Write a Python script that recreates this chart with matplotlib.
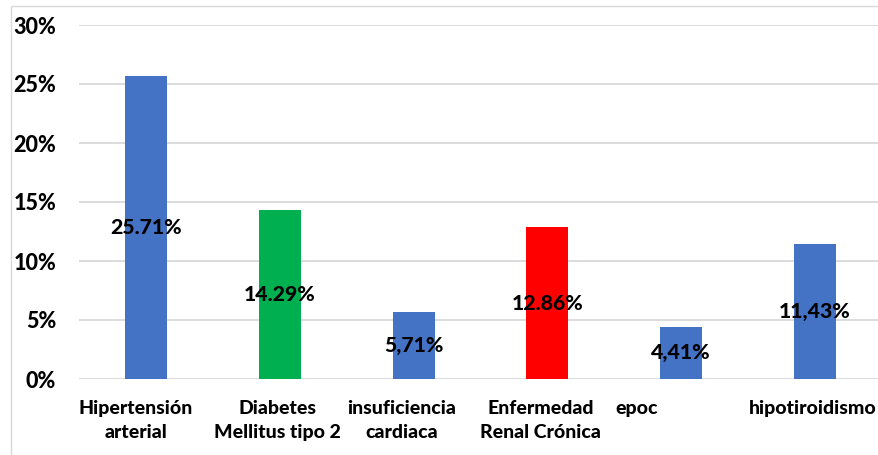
import matplotlib
matplotlib.use("Agg")
import matplotlib.pyplot as plt
from matplotlib.patches import Rectangle
from matplotlib.ticker import FuncFormatter
import matplotlib.transforms as mtransforms

categories = ["Hipertensión\narterial", "Diabetes\nMellitus tipo 2", "insuficiencia\ncardiaca",
              "Enfermedad\nRenal Crónica", "epoc", "hipotiroidismo"]
values = [25.71, 14.29, 5.71, 12.86, 4.41, 11.43]
value_labels = ["25.71%", "14.29%", "5,71%", "12.86%", "4,41%", "11,43%"]
colors = ["#4472C4", "#00B050", "#4472C4", "#FF0000", "#4472C4", "#4472C4"]
y_ticks = [0, 5, 10, 15, 20, 25, 30]

FONT = "Lato"
WEIGHT = 900
W, H = 879, 455
fig = plt.figure(figsize=(W / 100, H / 100), dpi=100)
fig.patch.set_facecolor("white")

# chart frame
fig.patches.append(Rectangle((11 / W, -0.1), 1.2, 1 - 6 / H + 0.1, transform=fig.transFigure,
                             fill=False, edgecolor="#d9d9d9", linewidth=1.0))

ax = fig.add_axes([79 / W, 76 / H, (882 - 79) / W, (430 - 76) / H])
x = list(range(len(values)))
ax.bar(x, values, width=0.314, color=colors, zorder=3)
ax.set_xlim(-0.5, len(values) - 0.5)
ax.set_ylim(0, 30)
ax.set_yticks(y_ticks)
ax.yaxis.set_major_formatter(FuncFormatter(lambda v, p: f"{v:.0f}%"))
ax.yaxis.grid(True, color="#d9d9d9", linewidth=1.3, zorder=0)
ax.set_axisbelow(True)
for s in ax.spines.values():
    s.set_visible(False)
ax.tick_params(axis="y", length=0, pad=16.5)
ax.tick_params(axis="x", length=0)
for t in ax.get_yticklabels():
    t.set_fontfamily(FONT)
    t.set_fontweight(WEIGHT)
    t.set_fontsize(15.5)
ax.set_xticks([])

for xi, v, lab in zip(x, values, value_labels):
    ax.text(xi, v / 2, lab, ha="center", va="center", fontsize=15.3, fontweight=WEIGHT,
            family=FONT, color="black", zorder=4)

# category labels, shifted in pixels
offsets = [-10, -2, -12, -7, -45, -2]
for xi, cat, off in zip(x, categories, offsets):
    tr = ax.get_xaxis_transform() + mtransforms.ScaledTranslation(off / 100, 0, fig.dpi_scale_trans)
    ax.text(xi, -0.06, cat, transform=tr, ha="center", va="top", fontsize=14,
            fontweight=WEIGHT, family=FONT, linespacing=1.5)

fig.savefig("out.png", dpi=100, facecolor="white")
